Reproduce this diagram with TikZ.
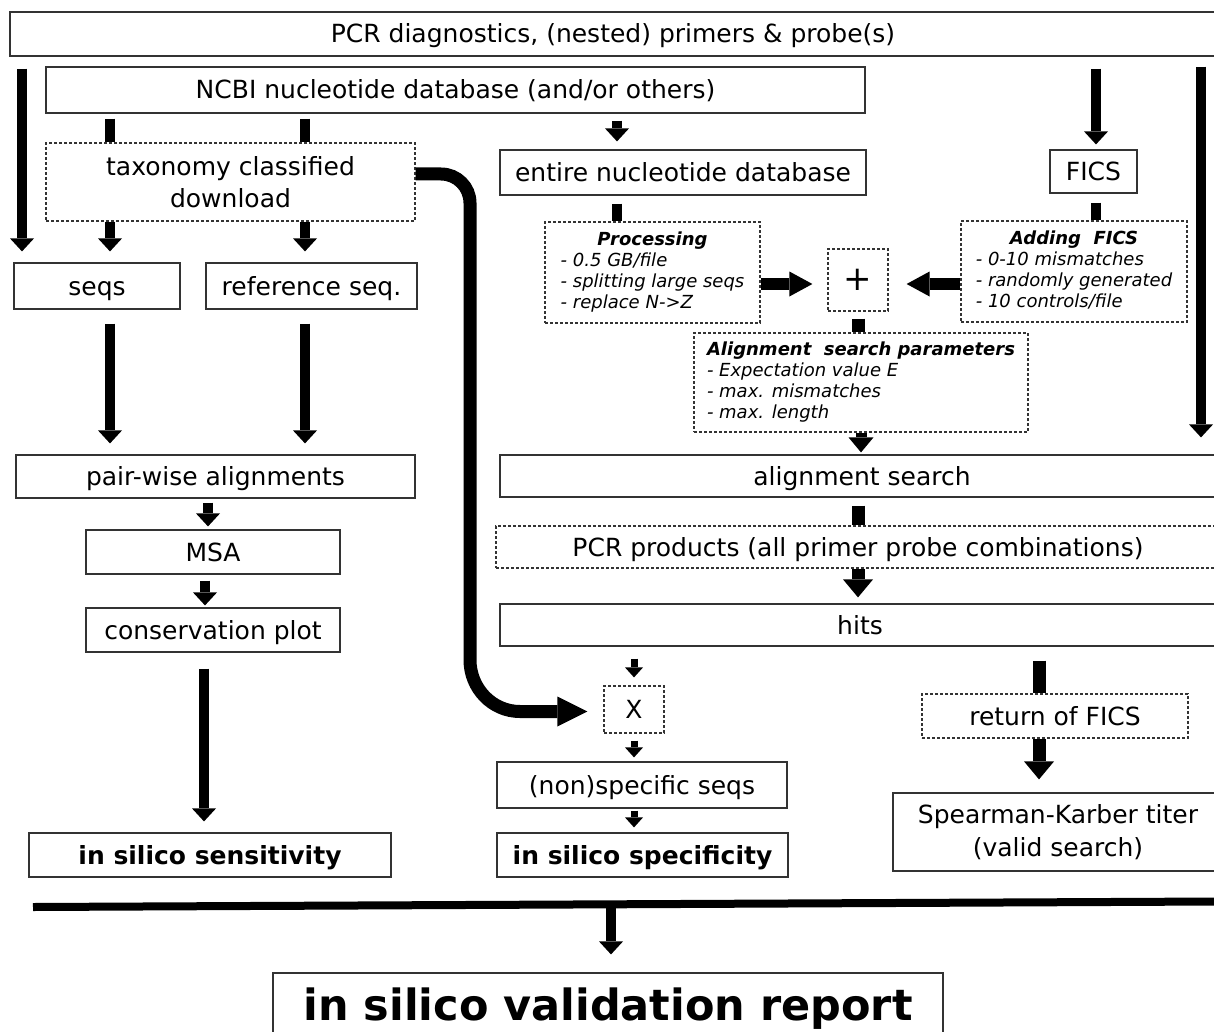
\documentclass[tikz,border=0pt]{standalone}
\usepackage{fontspec}
\setmainfont{DejaVu Sans}
\usetikzlibrary{arrows.meta}
\begin{document}
\begin{tikzpicture}[x=1pt,y=-1pt,
  box/.style={draw=black!80, line width=1.2pt, inner sep=0pt, align=center, font=\fontsize{25}{32}\selectfont},
  dbox/.style={box, dash pattern=on 3pt off 2pt},
  one/.style={text height=23pt, text depth=5pt},
  small/.style={font=\fontsize{18}{21}\selectfont\itshape},
  arF/.style={line width=10pt, -{Triangle[width=24pt,length=13pt,line width=0pt]}},
  arM/.style={line width=11pt, -{Triangle[width=25pt,length=15pt,line width=0pt]}},
  arB/.style={line width=13pt, -{Triangle[width=30pt,length=18pt,line width=0pt]}},
  arS/.style={line width=7pt, -{Triangle[width=18pt,length=10pt,line width=0pt]}},
  arH/.style={line width=12pt, -{Triangle[width=25pt,length=23pt,line width=0pt]}},
  arC/.style={line width=13pt, -{Triangle[width=30pt,length=30pt,line width=0pt]}},
  barN/.style={line width=10pt},
  barW/.style={line width=13pt}]
\useasboundingbox (0,0) rectangle (1214,1032);
\clip (0,0) rectangle (1214,1032);

% column / row helpers
\coordinate (xL) at (22,0);
\coordinate (xS) at (110,0);
\coordinate (xR) at (305,0);
\coordinate (xE) at (617,0);
\coordinate (xF) at (1096,0);
\coordinate (xRR) at (1201,0);
\coordinate (xP) at (858,0);
\coordinate (xM) at (208,0);
\coordinate (xM2) at (205,0);
\coordinate (xSn) at (204,0);
\coordinate (xRt) at (1039,0);
\coordinate (yA) at (0,284);

% nodes
\node[box, one, minimum width=1206pt, minimum height=44pt] (top) at (613,34) {PCR diagnostics, (nested) primers \& probe(s)};
\node[box, one, minimum width=819pt, minimum height=46pt] (ncbi) at (455.5,90) {NCBI nucleotide database (and/or others)};
\node[dbox, minimum width=369pt, minimum height=78pt] (tax) at (230.5,182) {taxonomy classified\\download};
\node[box, one, minimum width=366pt, minimum height=45pt] (entire) at (683,172.5) {entire nucleotide database};
\node[box, one, minimum width=87pt, minimum height=43pt] (fics) at (1093.5,171.5) {FICS};
\node[box, one, minimum width=166pt, minimum height=46pt] (seqs) at (97,286) {seqs};
\node[box, one, minimum width=211pt, minimum height=46pt] (ref) at (311.5,286) {reference seq.};
\node[dbox, small, minimum width=215pt, minimum height=101pt] (proc) at (652.5,272.5)
  {\begin{tabular}{@{}l@{}}\multicolumn{1}{@{}c@{}}{\bfseries Processing}\\- 0.5 GB/file\\- splitting large seqs\\- replace N->Z\end{tabular}};
\node[dbox, minimum width=60pt, minimum height=62pt, font=\fontsize{34}{34}\selectfont] (plus) at (858,280) {+};
\node[dbox, small, minimum width=226pt, minimum height=101pt] (add) at (1074,271.5)
  {\begin{tabular}{@{}l@{}}\multicolumn{1}{@{}c@{}}{\bfseries Adding\ \ FICS}\\- 0-10 mismatches\\- randomly generated\\- 10 controls/file\end{tabular}};
\node[dbox, small, minimum width=334pt, minimum height=99pt] (params) at (861,382.5)
  {\begin{tabular}{@{}l@{}}{\bfseries Alignment\ \ search parameters}\\- Expectation value E\\- max. mismatches\\- max. length\end{tabular}};
\node[box, one, minimum width=399pt, minimum height=43pt] (pair) at (215.5,476.5) {pair-wise alignments};
\node[box, one, minimum width=724pt, minimum height=42pt] (align) at (862,476) {alignment search};
\node[box, one, minimum width=254pt, minimum height=44pt] (msa) at (213,552) {MSA};
\node[dbox, one, minimum width=724pt, minimum height=42pt] (pcr) at (858,547) {PCR products (all primer probe combinations)};
\node[box, one, minimum width=254pt, minimum height=44pt] (cons) at (213,630) {conservation plot};
\node[box, one, minimum width=720pt, minimum height=42pt] (hits) at (860,625) {hits};
\node[dbox, one, minimum width=60pt, minimum height=47pt] (X) at (634,709.5) {X};
\node[dbox, one, minimum width=266pt, minimum height=44pt] (ret) at (1055,716) {return of FICS};
\node[box, one, minimum width=290pt, minimum height=46pt] (nonspec) at (642,785) {(non)specific seqs};
\node[box, minimum width=330pt, minimum height=78pt, font=\fontsize{25}{33}\selectfont] (spear) at (1058,832) {Spearman-Karber titer\\(valid search)};
\node[box, one, minimum width=362pt, minimum height=44pt, font=\fontsize{25}{32}\selectfont\bfseries] (sens) at (210,855) {in silico sensitivity};
\node[box, one, minimum width=291pt, minimum height=44pt, font=\fontsize{25}{32}\selectfont\bfseries] (spec) at (642.5,855) {in silico specificity};
\node[box, text height=36pt, text depth=10pt, minimum width=670pt, minimum height=68pt, font=\fontsize{43}{50}\selectfont\bfseries] (report) at (608,1007) {in silico validation report};

% bottom collecting line
\coordinate (bl1) at (33,907);
\coordinate (bl2) at (1216,901.5);
\coordinate (blm) at (611,904);
\draw[line width=8pt] (bl1) -- (bl2);
\draw[arF] (blm) -- ([yshift=18pt]report.north -| blm);

% left column
\draw[arF] ([yshift=-12pt]top.south -| xL) -- ([yshift=11pt]seqs.north -| xL);
\draw[barN] ([yshift=-5pt]ncbi.south -| xS) -- (tax.north -| xS);
\draw[barN] ([yshift=-5pt]ncbi.south -| xR) -- (tax.north -| xR);
\draw[arF] (tax.south -| xS) -- ([yshift=11pt]seqs.north -| xS);
\draw[arF] (tax.south -| xR) -- ([yshift=11pt]ref.north -| xR);
\draw[arF] ([yshift=-14pt]seqs.south -| xS) -- ([yshift=11pt]pair.north -| xS);
\draw[arF] ([yshift=-14pt]ref.south -| xR) -- ([yshift=11pt]pair.north -| xR);
\draw[arF] ([yshift=-4pt]pair.south -| xM) -- ([yshift=3pt]msa.north -| xM);
\draw[arF] ([yshift=-6pt]msa.south -| xM2) -- ([yshift=2pt]cons.north -| xM2);
\draw[arF] ([yshift=-16pt]cons.south -| xSn) -- ([yshift=11pt]sens.north -| xSn);

% middle / right
\draw[arF] ([yshift=-7pt]ncbi.south -| xE) -- ([yshift=8pt]entire.north -| xE);
\draw[arF] ([yshift=-12pt]top.south -| xF) -- ([yshift=5pt]fics.north -| xF);
\draw[arF] ([yshift=-10pt]top.south -| xRR) -- ([yshift=17pt]align.north -| xRR);
\draw[barN] ([yshift=-8pt]entire.south -| xE) -- (proc.north -| xE);
\draw[barN] ([yshift=-9pt]fics.south -| xF) -- (add.north -| xF);
\draw[arH] (proc.east |- yA) -- ([xshift=-15pt]plus.west |- yA);
\draw[arH] (add.west |- yA) -- ([xshift=18pt]plus.east |- yA);
\draw[barW] ([yshift=-7pt]plus.south) -- (params.north -| plus.south);
\draw[arM] (params.south) -- ([yshift=2pt]align.north -| params.south);
\draw[barW] ([yshift=-8pt]align.south -| xP) -- (pcr.north -| xP);
\draw[arB] (pcr.south -| xP) -- ([yshift=6pt]hits.north -| xP);
\draw[arS] ([yshift=-12pt]hits.south -| X) -- ([yshift=8pt]X.north);
\draw[arS] ([yshift=-7pt]X.south) -- ([yshift=4pt]nonspec.north -| X);
\draw[arS] ([yshift=-2pt]nonspec.south -| X) -- ([yshift=5pt]spec.north -| X);
\draw[barW] ([yshift=-14pt]hits.south -| xRt) -- (ret.north -| xRt);
\draw[arB] (ret.south -| xRt) -- ([yshift=13pt]spear.north -| xRt);

% taxonomy -> X thick curve
\draw[arC] ([yshift=8pt]tax.east) -- (441,174) to[out=0,in=90] (470,203) -- (470,660)
  to[out=-90,in=180] (520,711.5) -- ([xshift=-16pt,yshift=-2pt]X.west);
\end{tikzpicture}
\end{document}
